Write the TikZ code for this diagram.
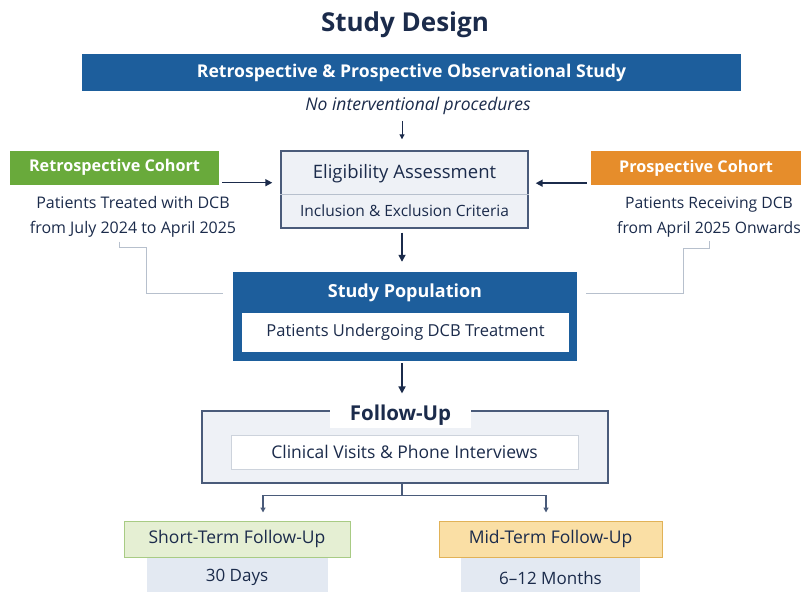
\documentclass[tikz,border=0pt]{standalone}
\usepackage{fontspec}
\setmainfont{Open Sans}
\usetikzlibrary{positioning}
\usetikzlibrary{arrows.meta}
\usetikzlibrary{calc}
\definecolor{navy}{HTML}{1B2B4B}
\definecolor{bandblue}{HTML}{1D5E9C}
\definecolor{retrogreen}{HTML}{69AA3B}
\definecolor{prosporange}{HTML}{E68D2B}
\definecolor{framegray}{HTML}{4A5B7A}
\definecolor{guidegray}{HTML}{B7C0CD}
\definecolor{panelgray}{HTML}{EEF1F6}
\definecolor{valuegray}{HTML}{E3E9F2}
\definecolor{shortfill}{HTML}{E5EFD3}
\definecolor{shortline}{HTML}{A8CB84}
\definecolor{midfill}{HTML}{FADFA5}
\definecolor{midline}{HTML}{E1B257}
\tikzset{>={Triangle[length=7pt,width=7pt]}}
\tikzset{txt/.style={text=navy, inner sep=0pt, font=\fontsize{16.5}{25}\selectfont}}
\tikzset{hdr/.style={txt, font=\fontsize{18}{22}\selectfont\bfseries}}
\tikzset{cohort/.style={minimum width=209pt, minimum height=34pt, inner sep=0pt, text=white, font=\fontsize{16.2}{20}\selectfont\bfseries}}
\tikzset{frame/.style={draw=framegray, line width=1.4pt, inner sep=0pt}}
\tikzset{arr/.style={->, draw=navy, line width=1.6pt}}
\tikzset{guide/.style={draw=guidegray, line width=0.9pt}}
\tikzset{small tip/.style={>={Triangle[length=5pt,width=5pt]}}}

\begin{document}
\begin{tikzpicture}[x=1pt,y=-1pt]
        \useasboundingbox (0,0) rectangle (802,591);

        \node[txt, font=\fontsize{26}{30}\selectfont\bfseries] (title) at (405,25) {Study Design};
        \node[fill=bandblue, minimum width=659pt, minimum height=37pt, text=white,
              font=\fontsize{17.6}{20}\selectfont\bfseries] (band) at (411.5,72.5)
              {Retrospective \& Prospective Observational Study};
        \node[txt, font=\fontsize{17.5}{20}\selectfont\itshape] (note) at (418,106) {No interventional procedures};

        % eligibility box with its two rows
        \node[frame, fill=panelgray, minimum width=247pt, minimum height=77pt] (elig) at (404.5,189.5) {};
        \node[txt, font=\fontsize{18.5}{22}\selectfont] (eligt) at (404.5,174) {Eligibility Assessment};
        \node[txt, font=\fontsize{15.5}{20}\selectfont] (eligs) at (404.5,211) {Inclusion \& Exclusion Criteria};
        \draw[guide] ([yshift=-4.5pt]elig.west) -- ([yshift=-4.5pt]elig.east);

        \node[cohort, fill=retrogreen] (retro) at (114.5,167.5) {Retrospective Cohort};
        \node[txt, align=center, font=\fontsize{16}{25}\selectfont] (retrotext) at (133,217) {Patients Treated with DCB\\from July 2024 to April 2025};
        \node[cohort, fill=prosporange, minimum width=210pt] (prosp) at (696,168) {Prospective Cohort};
        \node[txt, align=center, font=\fontsize{15.7}{25}\selectfont] (prosptext) at (709,217) {Patients Receiving DCB\\from April 2025 Onwards};

        % study population
        \node[fill=bandblue, minimum width=344pt, minimum height=89pt] (pop) at (405,316.5) {};
        \node[hdr, text=white] (popt) at (405,293) {Study Population};
        \node[txt, fill=white, minimum width=327pt, minimum height=39pt] (pops) at (405.5,332.5) {Patients Undergoing DCB Treatment};

        % follow-up panel
        \node[draw=framegray, line width=1.1pt, fill=panelgray, minimum width=406pt, minimum height=72pt] (follow) at (405,447) {};
        \node[txt, font=\fontsize{20.5}{24}\selectfont\bfseries, fill=white, minimum width=141pt, minimum height=26pt] (followt) at (400.5,415) {Follow-Up};
        \node[txt, font=\fontsize{17.5}{20}\selectfont, fill=white, draw=guidegray!70, line width=0.6pt, minimum width=347pt, minimum height=34pt] (follows) at (404.5,452) {Clinical Visits \& Phone Interviews};

        \node[txt, font=\fontsize{17.5}{20}\selectfont, fill=shortfill, draw=shortline, line width=1pt, minimum width=226pt, minimum height=36pt] (short) at (237,539) {Short-Term Follow-Up};
        \node[txt, font=\fontsize{17}{20}\selectfont, fill=valuegray, minimum width=181pt, minimum height=40pt, anchor=north] (shortval) at (short.south) {30 Days};
        \node[txt, font=\fontsize{17.5}{20}\selectfont, fill=midfill, draw=midline, line width=1pt, minimum width=223pt, minimum height=36pt] (mid) at (550.5,539) {Mid-Term Follow-Up};
        \node[txt, font=\fontsize{17}{20}\selectfont, fill=valuegray, minimum width=179pt, minimum height=40pt, anchor=north] (midval) at (mid.south) {6--12 Months};

        \draw[guide] ($(retrotext.south)+(-14,4)$) |- ++(27,6) |- ([xshift=-10pt]popt -| pop.west);
        \draw[guide] ($(prosptext.south)+(0,4)$) |- ++(-26,7) |- ([xshift=9pt]popt -| pop.east);

        \draw[arr, line width=1.5pt] ([xshift=3pt,yshift=2pt]retro.south east) -- ([xshift=-8pt,yshift=2pt]retro.south -| elig.west);
        \draw[arr, line width=1.5pt] ([xshift=-4pt,yshift=2pt]prosp.south west) -- ([xshift=7pt,yshift=2pt]prosp.south west -| elig.east);
        \draw[arr, small tip, line width=1pt, shorten <=6pt, shorten >=11pt] (note.south -| 402,0) -- (elig.north -| 402,0);
        \draw[arr, shorten <=4pt, shorten >=10pt] (elig.south -| 402,0) -- (pop.north -| 402,0);
        \draw[arr, shorten <=2pt, shorten >=17pt] (pop.south -| 402,0) -- (follow.north -| 402,0);

        \draw[draw=framegray, line width=1.2pt] (follow.south -| 402,0) -- ++(0,12) coordinate (fork);
        \draw[arr, small tip, draw=framegray, line width=1.2pt, shorten >=8pt] (fork) -| ([xshift=26pt]short.north);
        \draw[arr, small tip, draw=framegray, line width=1.2pt, shorten >=8pt] (fork) -| ([xshift=-4.5pt]mid.north);
\end{tikzpicture}
\end{document}
